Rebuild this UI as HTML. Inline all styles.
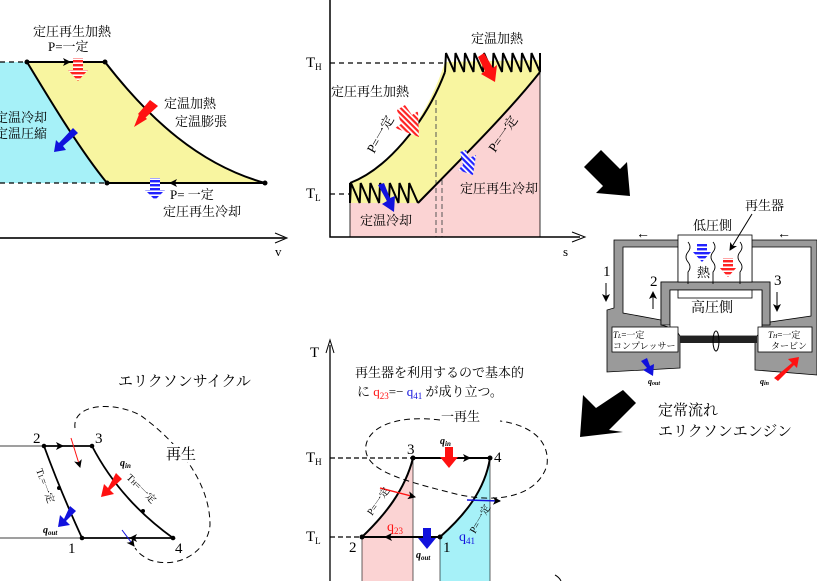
<!DOCTYPE html>
<html><head><meta charset="utf-8"><style>
html,body{margin:0;padding:0;background:#fff;}
svg{display:block;}
text{font-family:"Liberation Serif","Noto Serif CJK SC",serif;fill:#000;}
.j{font-size:13px;}
</style></head><body>
<svg width="817" height="581" viewBox="0 0 817 581" xmlns="http://www.w3.org/2000/svg">
<defs>
<pattern id="rs" width="4" height="4" patternUnits="userSpaceOnUse"><rect width="4" height="4" fill="#fff"/><rect width="4" height="2.4" fill="#f22"/></pattern>
<pattern id="bs" width="4" height="4" patternUnits="userSpaceOnUse"><rect width="4" height="4" fill="#fff"/><rect width="4" height="2.4" fill="#22f"/></pattern>
<pattern id="rd" width="4" height="4" patternUnits="userSpaceOnUse" patternTransform="rotate(45)"><rect width="4" height="4" fill="#fff"/><rect width="4" height="2.2" fill="#f22"/></pattern>
<pattern id="bd" width="4" height="4" patternUnits="userSpaceOnUse" patternTransform="rotate(45)"><rect width="4" height="4" fill="#fff"/><rect width="4" height="2.2" fill="#22f"/></pattern>
<marker id="ah" markerWidth="8" markerHeight="8" refX="7" refY="4" orient="auto" markerUnits="userSpaceOnUse"><path d="M0,0 L8,4 L0,8 L2,4Z" fill="#000"/></marker>
</defs>

<!-- ===== Top-left p-v ===== -->
<path d="M0,62 L27,62 C50,100 80,150 107,183 L0,183 Z" fill="#a6f1f8"/>
<path d="M27,62 L105,62 C150,120 200,165 265,183 L107,183 C80,150 50,100 27,62 Z" fill="#f8f5a0"/>
<path d="M0,62 H27 M0,183 H107" stroke="#000" stroke-dasharray="5,4" stroke-width="1.2"/>
<path d="M27,62 L105,62 C150,120 200,165 265,183 L107,183 C80,150 50,100 27,62 Z" fill="none" stroke="#000" stroke-width="2"/>
<path d="M40,62 H70" stroke="#000" marker-end="url(#ah)"/>
<path d="M200,183 H170" stroke="#000" marker-end="url(#ah)"/>
<g fill="#000"><circle cx="27" cy="62" r="2.5"/><circle cx="105" cy="62" r="2.5"/><circle cx="265" cy="183" r="2.5"/><circle cx="107" cy="183" r="2.5"/></g>
<path d="M0,238 H285" stroke="#333" stroke-width="2"/>
<path d="M275,233 L287,238 L275,243" stroke="#000" fill="none"/>
<text x="275" y="256" class="j">v</text>
<text x="33" y="36" class="j">定圧再生加熱</text>
<text x="48" y="51" class="j">P=一定</text>
<path d="M73,58 H83 V70 H88 L78,81 L68,70 H73 Z" fill="url(#rs)"/>
<text x="164" y="108" class="j">定温加熱</text>
<text x="175" y="126" class="j">定温膨張</text>
<path d="M134,127 L140,112 L147,119 Z" fill="#f11"/>
<path d="M150,100 L158,106 L144,119 L138,114 Z" fill="#f11"/>
<text x="-5" y="122" class="j">定温冷却</text>
<text x="-5" y="138" class="j">定温圧縮</text>
<path d="M73,128 L78,133 L63,146 L66,150 L54,152 L56,140 L59,143 Z" fill="#11d"/>
<path d="M150,178 H160 V190 H165 L155,200 L145,190 H150 Z" fill="url(#bs)"/>
<text x="170" y="199" class="j">P= 一定</text>
<text x="163" y="216" class="j">定圧再生冷却</text>

<!-- ===== Top-middle T-s ===== -->
<path d="M350,203 L418,203 C470,150 510,110 540,72 L540,237 L350,237 Z" fill="#fbd3d3"/>
<path d="M350,183 C385,170 425,125 445,62 L540,60 L540,72 C510,110 470,150 418,203 L350,203 Z" fill="#f8f5a0"/>
<path d="M330,63 H445 M330,194 H350" stroke="#000" stroke-dasharray="5,4" stroke-width="1.2"/>
<path d="M436,100 V237 M442,180 V237" stroke="#555" stroke-dasharray="5,3"/>
<path d="M330,0 V237 H580" stroke="#000" stroke-width="1.5" fill="none"/>
<path d="M572,232 L585,237 L572,242" stroke="#000" fill="none"/>
<text x="563" y="256" class="j">s</text>
<text x="306" y="67" style="font-size:15px">T<tspan style="font-size:9px" dy="3">H</tspan></text>
<text x="306" y="198" style="font-size:15px">T<tspan style="font-size:9px" dy="3">L</tspan></text>
<path d="M350,183 C385,170 425,125 445,72" fill="none" stroke="#000" stroke-width="2"/>
<path d="M540,72 C510,110 470,150 418,203" fill="none" stroke="#000" stroke-width="2"/>
<polyline points="445,72 446,53 454.5,72 455.5,53 464,72 465,53 473.5,72 474.5,53 483,72 484,53 492.5,72 493.5,53 502,72 503,53 511.5,72 512.5,53 521,72 522,53 530.5,72 531.5,53 540,72 540,53" fill="none" stroke="#000" stroke-width="2"/>
<polyline points="350,183 350,203 351,183 359.7,203 360.7,183 369.4,203 370.4,183 379.1,203 380.1,183 388.8,203 389.8,183 398.5,203 399.5,183 408.2,203 409.2,183 418,203" fill="none" stroke="#000" stroke-width="2"/>
<path d="M350,203 V237 M540,72 V237" stroke="#000" stroke-width="0.8"/>
<text x="471" y="43" class="j">定温加熱</text>
<path d="M478,57 L484,53 L493,68 L497,65 L495,82 L481,74 L485,71 Z" fill="#f11"/>
<text x="331" y="96" class="j">定圧再生加熱</text>
<path d="M397,110 L405,105 L412,115 L418,111 L419,137 L395,128 L401,124 Z" fill="url(#rd)"/>
<text transform="translate(374,154) rotate(-60)" class="j">P=一定</text>
<text transform="translate(495,153) rotate(-55)" class="j">P=一定</text>
<path d="M460,152 L466,150 L469,158 L476,155 L473,175 L458,170 L463,165 Z" fill="url(#bd)"/>
<text x="460" y="193" class="j">定圧再生冷却</text>
<path d="M378,185 L384,183 L390,198 L395,196 L394,212 L382,204 L387,201 Z" fill="#11d"/>
<text x="360" y="225" class="j">定温冷却</text>

<!-- big black arrows -->
<path d="M588,163 L601,150 L620,169 L627,162 L630,196 L596,193 L603,186 L584,167 Z" fill="#000"/>
<path d="M623,390 L636,403 L609,430 L623,432 L580,437 L583,395 L596,408 Z" fill="#000"/>

<!-- ===== Engine diagram ===== -->
<g stroke="#000" stroke-width="0.8">
<path d="M614,240 H817 V375 L755,370 V330 L757,325 H770 V290 H762 V282 H661 V325 L680,330 V368 L607,372 V310 L614,308 Z" fill="#9a9a9a"/>
<path d="M623,247 H678 V282 H661 V320 L623,313 Z" fill="#fff"/>
<path d="M752,247 H811 V316 L770,322 V282 H752 Z" fill="#fff"/>
<path d="M661,282 H770 V325 H762 V290 H670 V325 H661 Z" fill="#9a9a9a"/>
<path d="M670,290 H762 V330 L757,336 H680 L676,330 H670 Z" fill="#fff"/>
<rect x="678" y="235" width="74" height="47" fill="#fff"/>
<rect x="678" y="290" width="74" height="8" fill="#fff"/>
<rect x="612" y="327" width="66" height="25" fill="#fff"/>
<rect x="758" y="327" width="54" height="25" fill="#fff"/>
</g>
<rect x="680" y="336" width="77" height="7" fill="#222"/>
<ellipse cx="716" cy="341" rx="3" ry="10" fill="none" stroke="#000"/>
<text x="745" y="210" class="j">再生器</text>
<path d="M752,214 L730,250" stroke="#000" marker-end="url(#ah)"/>
<text x="693" y="230" class="j">低圧側</text>
<text x="636" y="238" class="j" style="font-size:14px">←</text>
<text x="777" y="238" class="j" style="font-size:14px">←</text>
<path d="M697,243 H707 V252 H711 L702,262 L693,252 H697 Z" fill="url(#bs)"/>
<path d="M723,258 H733 V267 H737 L728,277 L719,267 H723 Z" fill="url(#rs)"/>
<g stroke="#000" fill="none" stroke-width="0.9">
<path d="M688,242 q4,5 0,10 q-4,5 0,10 q4,5 0,10 l0,12"/>
<path d="M713,242 q4,5 0,10 q-4,5 0,10 q4,5 0,10 l0,12"/>
<path d="M740,242 q4,5 0,10 q-4,5 0,10 q4,5 0,10 l0,12"/>
</g>
<text x="697" y="277" class="j">熱</text>
<text x="691" y="312" class="j" style="font-size:14px">高圧側</text>
<text x="603" y="276" class="j" style="font-size:15px">1</text>
<path d="M606,283 V301" stroke="#000" marker-end="url(#ah)"/>
<text x="650" y="286" class="j" style="font-size:15px">2</text>
<path d="M653,309 V292" stroke="#000" marker-end="url(#ah)"/>
<text x="774" y="285" class="j" style="font-size:15px">3</text>
<path d="M777,292 V311" stroke="#000" marker-end="url(#ah)"/>
<text x="613" y="338" style="font-size:9px;font-style:italic">T<tspan font-size="6">L</tspan><tspan font-style="normal">=一定</tspan></text>
<text x="613" y="349" style="font-size:9px">コンプレッサー</text>
<text x="768" y="338" style="font-size:9px;font-style:italic">T<tspan font-size="6">H</tspan><tspan font-style="normal">=一定</tspan></text>
<text x="771" y="349" style="font-size:9px">タービン</text>
<path d="M641,361 L647,358 L650,366 L654,364 L653,376 L643,370 L647,368 Z" fill="#11d"/>
<text x="648" y="384" style="font-size:8px;font-weight:bold;font-style:italic">q<tspan font-size="6" dy="1">out</tspan></text>
<path d="M774,378 L792,363 L788,359 L799,357 L797,368 L794,365 L778,381 Z" fill="#f11"/>
<text x="760" y="384" style="font-size:8px;font-weight:bold;font-style:italic">q<tspan font-size="6" dy="1">in</tspan></text>
<text x="658" y="415" style="font-size:15px" class="j">定常流れ</text>
<text x="658" y="436" style="font-size:15px" class="j">エリクソンエンジン</text>

<!-- ===== Bottom-left p-v ===== -->
<text x="118" y="386" style="font-size:15px">エリクソンサイクル</text>
<path d="M0,446 H44 M0,538 H82" stroke="#000" stroke-width="0.8"/>
<path d="M44,446 H92 Q120,500 173,538 H82 Q60,490 44,446 Z" fill="none" stroke="#000" stroke-width="1.8"/>
<path d="M55,446 H63" stroke="#000" marker-end="url(#ah)"/>
<path d="M140,538 H130" stroke="#000" marker-end="url(#ah)"/>
<g fill="#000"><circle cx="44" cy="446" r="2.3"/><circle cx="92" cy="446" r="2.3"/><circle cx="173" cy="538" r="2.3"/><circle cx="82" cy="538" r="2.3"/><circle cx="59" cy="488" r="2"/><circle cx="143" cy="511" r="2"/></g>
<text x="33" y="443" style="font-size:15px">2</text>
<text x="95" y="443" style="font-size:15px">3</text>
<text x="68" y="553" style="font-size:15px">1</text>
<text x="175" y="553" style="font-size:15px">4</text>
<path d="M75,428 C72,405 110,400 140,415 C175,440 210,480 210,525 C208,550 180,570 150,560 C140,555 138,552 135,548" fill="none" stroke="#000" stroke-dasharray="6,4"/>
<rect x="165" y="444" width="34" height="18" fill="#fff"/>
<text x="166" y="459" class="j" style="font-size:15px">再生</text>
<path d="M71,438 L80,467" stroke="#f11" marker-end="url(#ah)"/>
<path d="M122,530 L134,546" stroke="#11d" marker-end="url(#ah)"/>
<text x="120" y="466" style="font-size:10px;font-weight:bold;font-style:italic">q<tspan font-size="7" dy="2">in</tspan></text>
<path d="M116,473 L122,479 L110,490 L114,494 L101,497 L104,484 L108,488 Z" fill="#f11"/>
<text transform="translate(36,470) rotate(70)" style="font-size:10px">T<tspan font-size="7">L</tspan>=一定</text>
<text transform="translate(126,478) rotate(45)" style="font-size:10px">T<tspan font-size="7">H</tspan>=一定</text>
<path d="M70,506 L76,511 L66,521 L70,525 L58,527 L60,515 L64,519 Z" fill="#11d"/>
<text x="43" y="533" style="font-size:10px;font-weight:bold;font-style:italic">q<tspan font-size="7" dy="2">out</tspan></text>

<!-- ===== Bottom-middle T-s ===== -->
<path d="M362,537 C385,515 405,490 413,458 L413,581 L362,581 Z" fill="#fbd3d3"/>
<path d="M440,537 C465,515 485,490 490,458 L490,581 L440,581 Z" fill="#a6f1f8"/>
<path d="M330,345 V581" stroke="#000" stroke-width="1.3"/>
<path d="M326,353 L330,340 L334,353" stroke="#000" fill="none"/>
<text x="310" y="357" style="font-size:15px">T</text>
<text x="306" y="462" style="font-size:15px">T<tspan style="font-size:9px" dy="3">H</tspan></text>
<text x="306" y="541" style="font-size:15px">T<tspan style="font-size:9px" dy="3">L</tspan></text>
<path d="M330,458 H413 M330,537 H362" stroke="#000" stroke-dasharray="5,3" stroke-width="1.3"/>
<path d="M413,458 V581 M362,537 V581 M490,458 V581 M440,537 V581" stroke="#000" stroke-width="0.6"/>
<path d="M362,537 C385,515 405,490 413,458 H490 C485,490 465,515 440,537 Z" fill="none" stroke="#000" stroke-width="2"/>
<path d="M440,458 H470" stroke="#000" marker-end="url(#ah)"/>
<path d="M400,537 H385" stroke="#000" marker-end="url(#ah)"/>
<g fill="#000"><circle cx="413" cy="458" r="2.5"/><circle cx="490" cy="458" r="2.5"/><circle cx="362" cy="537" r="2.5"/><circle cx="440" cy="537" r="2.5"/></g>
<text x="407" y="454" style="font-size:15px">3</text>
<text x="494" y="462" style="font-size:15px">4</text>
<text x="349" y="552" style="font-size:15px">2</text>
<text x="443" y="552" style="font-size:15px">1</text>
<text x="355" y="377" class="j">再生器を利用するので基本的</text>
<text x="357" y="396" class="j">に <tspan style="fill:#f11">q<tspan font-size="9" dy="3">23</tspan></tspan><tspan dy="-3">=−</tspan> <tspan style="fill:#11d">q<tspan font-size="9" dy="3">41</tspan></tspan><tspan dy="-3"> が成り立つ。</tspan></text>
<path d="M440,420 C400,415 370,425 366,445 C362,470 400,480 460,495 C510,505 540,490 547,465 C550,440 530,425 500,421" fill="none" stroke="#000" stroke-dasharray="6,4"/>
<rect x="440" y="408" width="40" height="16" fill="#fff"/>
<text x="441" y="421" class="j">一再生</text>
<path d="M445,447 H453 V457 H458 L449,468 L440,457 H445 Z" fill="#f11"/>
<text x="440" y="444" style="font-size:10px;font-weight:bold;font-style:italic">q<tspan font-size="7" dy="2">in</tspan></text>
<path d="M423,528 H431 V538 H436 L427,549 L418,538 H423 Z" fill="#11d"/>
<text x="416" y="558" style="font-size:10px;font-weight:bold;font-style:italic">q<tspan font-size="7" dy="2">out</tspan></text>
<path d="M380,488 L415,497" stroke="#f11" stroke-width="1.4" marker-end="url(#ah)"/>
<path d="M467,500 L500,501" stroke="#11d" stroke-width="1.4" marker-end="url(#ah)"/>
<text transform="translate(372,516) rotate(-55)" style="font-size:10px">P=一定</text>
<text transform="translate(475,534) rotate(-60)" style="font-size:10px">P=一定</text>
<text x="387" y="531" style="font-size:14px;fill:#f11">q<tspan font-size="9" dy="3">23</tspan></text>
<text x="459" y="541" style="font-size:14px;fill:#11d">q<tspan font-size="9" dy="3">41</tspan></text>
<path d="M555,575 q4,2 6,6" stroke="#000" fill="none"/>
</svg>
</body></html>
